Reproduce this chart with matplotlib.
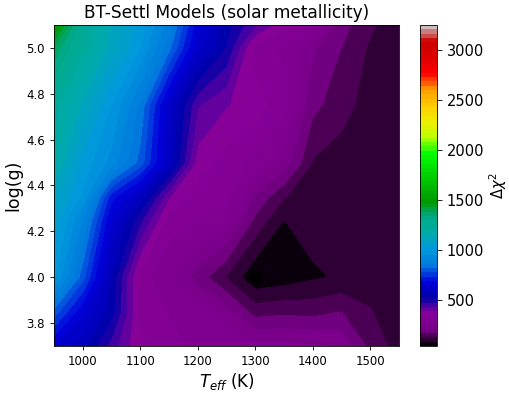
import numpy as np
import matplotlib
matplotlib.use('Agg')
import matplotlib.pyplot as plt

teff = [950, 1000, 1050, 1100, 1150, 1200, 1250, 1300, 1350, 1400, 1450, 1500, 1550]
logg = [3.7, 3.85, 4.0, 4.25, 4.35, 4.5, 4.75, 5.0, 5.1]

# delta chi^2, one row per logg
row_370 = [640, 570, 450, 340, 308, 287, 277, 267, 267, 257, 246, 149, 104]
row_385 = [800, 650, 530, 333, 293, 269, 226, 145, 153, 149, 165, 125, 85]
row_400 = [1000, 790, 550, 319, 257, 190, 118, 42, 54, 72, 84, 98, 88]
row_425 = [1060, 900, 640, 480, 319, 298, 277, 155, 78, 95, 98, 102, 91]
row_435 = [1090, 980, 705, 580, 385, 319, 308, 201, 125, 91, 98, 98, 90]
row_450 = [1170, 1020, 930, 800, 590, 361, 319, 287, 236, 118, 98, 95, 88]
row_475 = [1230, 1110, 990, 850, 610, 430, 385, 361, 308, 177, 142, 98, 86]
row_500 = [1370, 1230, 1100, 990, 830, 620, 510, 319, 287, 215, 165, 115, 85]
row_510 = [1530, 1250, 1120, 1012, 880, 660, 530, 430, 350, 298, 181, 131, 85]

chi_min = 35
chi_max = 3250
best_teff = [1300]
best_logg = [4.0]

chi = np.array([row_370, row_385, row_400, row_425, row_435, row_450, row_475, row_500, row_510])
levels = np.linspace(chi_min, chi_max, 75)

fig = plt.figure(figsize=(5.09, 3.93), dpi=100)
ax = fig.add_axes([54/509, 1-346/393, 345/509, 321/393])
cax = fig.add_axes([420/509, 1-346/393, 17/509, 321/393])

cf = ax.contourf(teff, logg, chi, levels=levels, cmap='nipy_spectral')
ax.scatter(best_teff, best_logg, color='k', s=70, zorder=3)

ax.set_xlim(950, 1550)
ax.set_ylim(3.7, 5.1)
ax.set_xticks([1000, 1100, 1200, 1300, 1400, 1500])
ax.set_yticks([3.8, 4.0, 4.2, 4.4, 4.6, 4.8, 5.0])
ax.tick_params(labelsize=8.5, length=3, width=0.6)
for s in ax.spines.values():
    s.set_linewidth(0.6)
ax.set_xlabel(r'$T_{eff}$ (K)', fontsize=12, labelpad=2)
ax.set_ylabel('log(g)', fontsize=12.5, labelpad=3)
ax.set_title('BT-Settl Models (solar metallicity)', fontsize=12.25, pad=5)

cb = fig.colorbar(cf, cax=cax)
cb.set_ticks([500, 1000, 1500, 2000, 2500, 3000])
cb.ax.tick_params(labelsize=10.5, length=3.5, width=0.6)
cb.outline.set_linewidth(0.6)
cb.set_label(r'$\Delta\chi^2$', fontsize=10.5, labelpad=2)

plt.savefig('out.png', dpi=100)
